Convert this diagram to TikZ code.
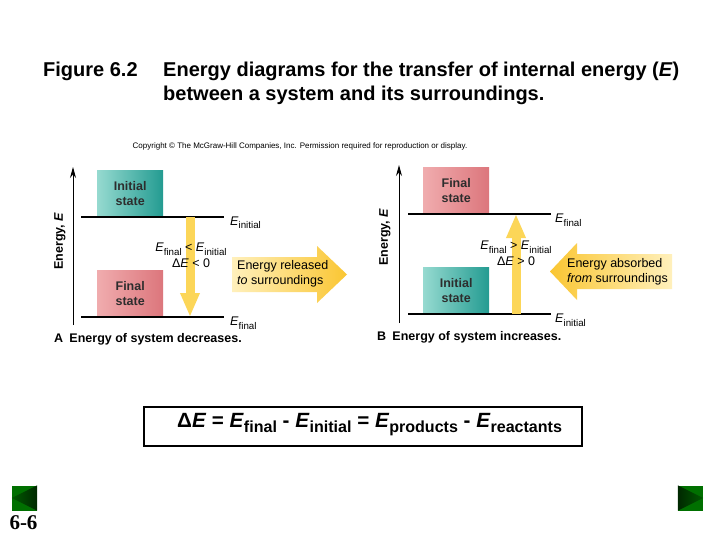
\documentclass[tikz,border=0pt]{standalone}
\usepackage{fontspec}
\setmainfont{Liberation Sans}
\newfontfamily\slidenum{Liberation Serif}
\usetikzlibrary{arrows.meta,calc,positioning}
\definecolor{tealhi}{RGB}{150,218,208}
\definecolor{tealdk}{RGB}{35,155,145}
\definecolor{rosehi}{RGB}{240,172,174}
\definecolor{rosedk}{RGB}{220,118,124}
\definecolor{ambhi}{RGB}{255,240,188}
\definecolor{ambdk}{RGB}{250,198,50}
\definecolor{ambmid}{RGB}{252,214,88}
\definecolor{navgreen}{RGB}{0,112,0}
\definecolor{navdark}{RGB}{0,40,0}
\definecolor{boxtxt}{RGB}{45,45,45}
\makeatletter
\newcommand\Esub[1]{\textit{E}\raisebox{-0.28em}{\fontsize{\the\dimexpr0.78\dimexpr\f@size pt\relax\relax}{1pt}\selectfont #1}}
\makeatother
\newcommand\fsz[1]{\fontsize{#1}{#1}\selectfont}

\begin{document}
\begin{tikzpicture}[x=1pt, y=-1pt, >=Latex,
  titletxt/.style={anchor=base west, inner sep=0pt, font=\fontsize{20}{24}\selectfont\bfseries, align=left},
  inistate/.style={left color=tealhi, right color=tealdk, minimum width=66pt, minimum height=46pt,
    inner sep=0pt, anchor=south west, align=center, text=boxtxt, font=\fontsize{12.5}{15}\selectfont\bfseries},
  finstate/.style={inistate, left color=rosehi, right color=rosedk},
  level/.style={line width=1.3pt},
  lvllab/.style={anchor=base west, inner sep=0pt, font=\fsz{12.5}},
  axisline/.style={line width=1pt, -{Stealth[length=11pt, width=6pt]}},
  axislab/.style={rotate=90, inner sep=0pt, font=\fsz{12.5}\bfseries},
  yarrow/.style={draw=ambmid, line width=9pt, -{Triangle[length=24pt, width=18pt]}},
  midtxt/.style={inner sep=0pt, font=\fsz{12.5}},
  flowtxt/.style={anchor=west, inner sep=0pt, align=left, font=\fontsize{12.5}{15}\selectfont},
  captxt/.style={anchor=west, inner sep=0pt, font=\fsz{12.5}\bfseries},
  navbtn/.style={fill=navgreen, minimum size=25pt, inner sep=0pt}]
\path[fill=white, use as bounding box] (0,0) rectangle (720,540);

\node[titletxt] (fignum) at (43,77) {Figure 6.2};
\node[titletxt] (figcap) at (163,101) {Energy diagrams for the transfer of internal energy (\textit{E})\\between a system and its surroundings.};
\node[inner sep=0pt, font=\fsz{8}] (copyr) at (300,146) {Copyright © The McGraw-Hill Companies, Inc. Permission required for reproduction or display.};

% A
\coordinate (axAbot) at (73,325);
\coordinate (axAtop) at (73,167);
\draw[axisline] (axAbot) -- (axAtop);
\node[axislab] (ylabA) at (60,241) {Energy, \textit{E}};
\node[inistate] (iniA) at (97,217) {Initial\\state};
\node[finstate] (finA) at (97,317) {Final\\state};
\coordinate (hiAl) at (81,217);
\coordinate (hiAr) at (224,217);
\coordinate (loAl) at (81,317);
\coordinate (loAr) at (224,317);
\draw[level] (hiAl) -- (hiAr);
\draw[level] (loAl) -- (loAr);
\node[lvllab] (eiA) at ($(hiAr)+(6,8.5)$) {\Esub{initial}};
\node[lvllab] (efA) at ($(loAr)+(6,8.5)$) {\Esub{final}};
\coordinate (dnAt) at (190,217);
\coordinate (dnAb) at (190,317);
\draw[yarrow] (dnAt) -- (dnAb);
\node[midtxt] (condA) at (191,249) {\Esub{final} < \Esub{initial}};
\node[midtxt] (dEA) at (191,263.5) {Δ\textit{E} < 0};
\shade[left color=ambhi, right color=ambdk] (232,257) -- (317,257) -- (317,246) -- (347,274.5)
  -- (317,303) -- (317,292) -- (232,292) -- cycle;
\node[flowtxt] (relA) at (237,273.5) {Energy released\\\textit{to} surroundings};
\node[captxt] (capA) at (54,339) {A\hspace{0.5em}Energy of system decreases.};

% B
\coordinate (axBbot) at (399,323);
\coordinate (axBtop) at (399,165);
\draw[axisline] (axBbot) -- (axBtop);
\node[axislab] (ylabB) at (385,237) {Energy, \textit{E}};
\node[finstate] (finB) at (423,214) {Final\\state};
\node[inistate] (iniB) at (423,314) {Initial\\state};
\coordinate (hiBl) at (408,214);
\coordinate (hiBr) at (551,214);
\coordinate (loBl) at (408,314);
\coordinate (loBr) at (551,314);
\draw[level] (hiBl) -- (hiBr);
\draw[level] (loBl) -- (loBr);
\node[lvllab] (efB) at ($(hiBr)+(4,8.5)$) {\Esub{final}};
\node[lvllab] (eiB) at ($(loBr)+(4,8.5)$) {\Esub{initial}};
\coordinate (upBb) at (516,314);
\coordinate (upBt) at (516,214);
\draw[yarrow] (upBb) -- (upBt);
\node[midtxt] (condB) at (516,247) {\Esub{final} > \Esub{initial}};
\node[midtxt] (dEB) at (516,261) {Δ\textit{E} > 0};
\shade[left color=ambdk, right color=ambhi] (672,254) -- (577,254) -- (577,243) -- (550,271.5)
  -- (577,300) -- (577,289) -- (672,289) -- cycle;
\node[flowtxt] (absB) at (567,271.5) {Energy absorbed\\\textit{from} surroundings};
\node[captxt] (capB) at (377,337) {B\hspace{0.5em}Energy of system increases.};

% equation
\node[draw, line width=2pt, minimum width=438pt, minimum height=39pt] (eqbox) at (363,426.5) {};
\node[anchor=base west, inner sep=0pt, font=\fsz{20.6}\bfseries] (eqn) at (177,427)
  {Δ\textit{E} = \Esub{final} - \Esub{initial} = \Esub{products} - \Esub{reactants}};

% navigation
\node[navbtn] (prevbtn) at (24.5,498) {};
\shade[left color=navgreen!80!black, right color=navdark] (prevbtn.west) -- (prevbtn.north east) -- (prevbtn.south east) -- cycle;
\node[navbtn] (nextbtn) at (690.5,498) {};
\shade[left color=navdark, right color=navgreen!80!black] (nextbtn.east) -- (nextbtn.north west) -- (nextbtn.south west) -- cycle;
\node[inner sep=0pt, font=\slidenum\bfseries\fsz{21}] (pgno) at (23.5,523) {6-6};
\end{tikzpicture}
\end{document}
